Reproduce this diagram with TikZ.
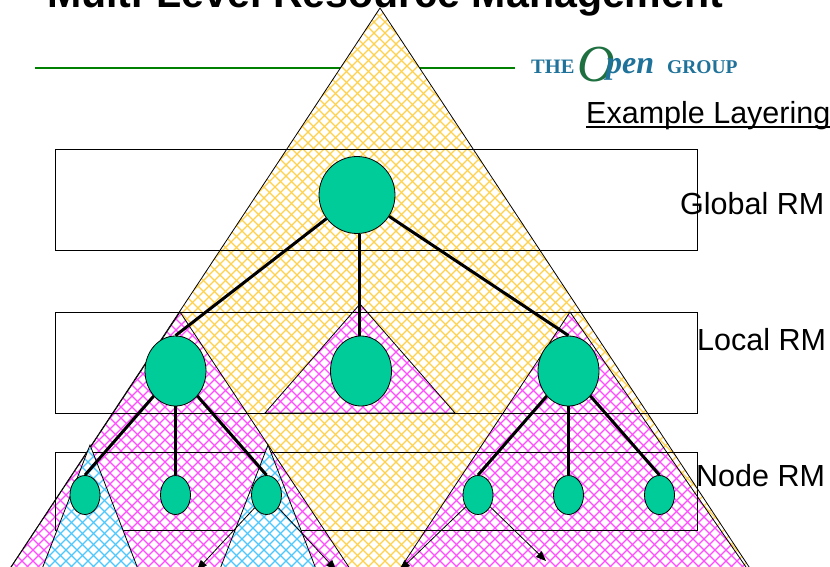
\documentclass[tikz,border=0pt]{standalone}
\usepackage{fontspec}
\setmainfont{Liberation Sans}
\newfontfamily\logoserif{Liberation Serif}
\usetikzlibrary{arrows.meta,shapes.geometric}
\definecolor{hatchyellow}{HTML}{FFD24D}
\definecolor{hatchpink}{HTML}{FF4DFF}
\definecolor{hatchblue}{HTML}{4DC8FF}
\definecolor{nodegreen}{HTML}{00CC99}
\definecolor{rulegreen}{HTML}{008000}
\definecolor{logoblue}{HTML}{1F7299}
\definecolor{logogreen}{HTML}{1F7040}
\newcommand{\hatchtri}[4]{%
  \begin{scope}
    \clip (#1) -- (#2) -- (#3) -- cycle;
    \fill[white] (-100,0) rectangle (930,700);
    \foreach \k in {-70,...,140}{
      \draw[#4,line width=1.3pt] ({\k*11},0) -- ({\k*11+700},700);
      \draw[#4,line width=1.3pt] ({\k*11},0) -- ({\k*11-700},700);
    }
  \end{scope}
  \draw[black,line width=0.8pt] (#1) -- (#2) -- (#3) -- cycle;
}
\tikzset{
  layerbox/.style={draw=black,line width=0.8pt},
  rmnode/.style={draw=black,line width=0.8pt,fill=nodegreen,ellipse,inner sep=0pt},
  biglevel/.style={rmnode,minimum width=61pt,minimum height=70pt},
  smalllevel/.style={rmnode,minimum width=30pt,minimum height=39pt},
  trunk/.style={draw=black,line width=3pt},
  thinarrow/.style={draw=black,line width=0.8pt,-{Triangle[length=10pt,width=8pt]}},
  rmlabel/.style={font=\fontsize{30.5}{33}\selectfont,anchor=base west,inner sep=0pt},
}
\begin{document}
\begin{tikzpicture}[x=1pt,y=-1pt]
\useasboundingbox (0,0) rectangle (830,567);
\clip (0,0) rectangle (830,567);
\fill[white] (0,0) rectangle (830,567);
\node[font=\fontsize{41.1}{43}\bfseries\selectfont,anchor=base west,inner sep=0pt] (title) at (47,8) {Multi-Level Resource Management};
\coordinate (ruleL) at (35,68);
\coordinate (ruleR) at (515,68);
\draw[rulegreen,line width=2.6pt] (ruleL) -- (ruleR);
\node[anchor=base west,inner sep=0pt,text=logoblue,font=\logoserif\bfseries\fontsize{20.5}{22}\selectfont] (logoa) at (531,74) {THE};
\node[anchor=base west,inner sep=0pt,text=logogreen,font=\logoserif\itshape\fontsize{52}{52}\selectfont] (logob) at (577,82) {O};
\node[anchor=base west,inner sep=0pt,text=logoblue,font=\logoserif\itshape\bfseries\fontsize{32}{34}\selectfont] (logoc) at (606,74) {pen};
\node[anchor=base west,inner sep=0pt,text=logoblue,font=\logoserif\bfseries\fontsize{19.5}{22}\selectfont] (logod) at (667,74) {GROUP};
\hatchtri{380,8}{-65,682}{825,682}{hatchyellow}
\hatchtri{180,312}{-55,667}{415,667}{hatchpink}
\hatchtri{360,304}{265,413}{455,413}{hatchpink}
\hatchtri{570,312}{335,667}{815,667}{hatchpink}
\draw[layerbox] (55,149) rectangle (697,250);
\draw[layerbox] (55,312) rectangle (697,413);
\draw[layerbox] (55,452) rectangle (697,530);
\hatchtri{90,445}{30,600}{150,600}{hatchblue}
\hatchtri{268,445}{208,600}{328,600}{hatchblue}
\node[rmnode,minimum width=76pt,minimum height=77pt] (g) at (357,195) {};
\node[biglevel] (la) at (175.5,371) {};
\node[biglevel] (lb) at (361,371) {};
\node[biglevel] (lc) at (568.5,371) {};
\node[smalllevel] (na) at (85,495) {};
\node[smalllevel] (nb) at (175.5,495) {};
\node[smalllevel] (nc) at (266.5,495) {};
\node[smalllevel] (nd) at (478,495) {};
\node[smalllevel] (ne) at (568.5,495) {};
\node[smalllevel] (nf) at (659.5,495) {};
\draw[trunk] (g) -- (la.north);
\draw[trunk] ([xshift=2pt]g.south) -- ([xshift=-2pt]lb.north);
\draw[trunk] (g) -- (lc.north);
\draw[trunk] (la) -- (na.north);
\draw[trunk] (la) -- (nb.north);
\draw[trunk] (la) -- (nc.north);
\draw[trunk] (lc) -- (nd.north);
\draw[trunk] (lc) -- (ne.north);
\draw[trunk] (lc) -- (nf.north);
\coordinate (t1) at (197,570);
\coordinate (t2) at (336,570);
\coordinate (t3) at (400,570);
\coordinate (t4) at (546,561);
\draw[thinarrow] (nc) -- (t1);
\draw[thinarrow] (nc) -- (t2);
\draw[thinarrow] (nd) -- (t3);
\draw[thinarrow] (nd) -- (t4);
\node[rmlabel] (ex) at (586,124) {Example Layering};
\draw[black,line width=2pt] (ex.base west) ++(0,3.5) -- ++(245,0);
\node[rmlabel] (gl) at (680,214) {Global RM};
\node[rmlabel] (lo) at (697,350) {Local RM};
\node[rmlabel] (no) at (696,486) {Node RM};
\end{tikzpicture}
\end{document}
